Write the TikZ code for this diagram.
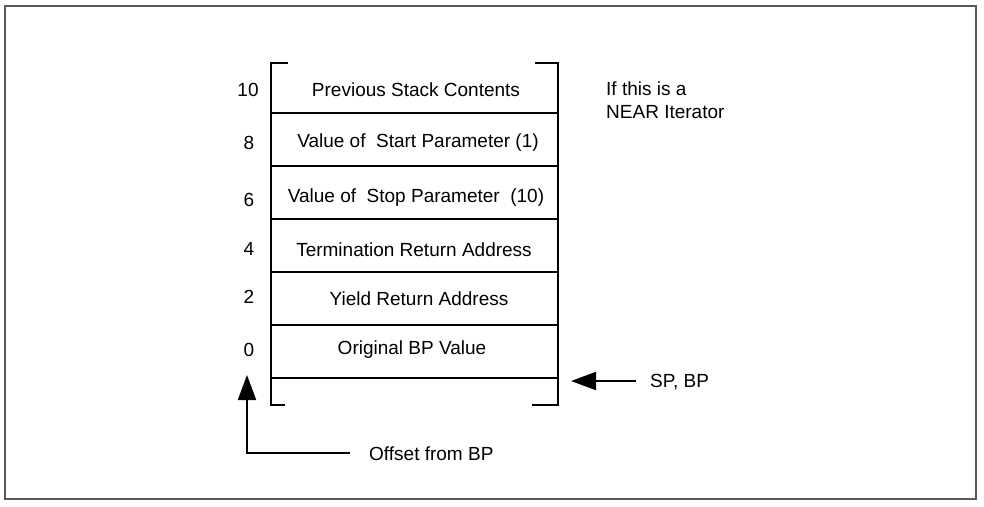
\documentclass[tikz,border=0pt]{standalone}
\usepackage{fontspec}
\setmainfont{Liberation Sans}
\usetikzlibrary{arrows.meta}
\begin{document}
\begin{tikzpicture}[x=1pt,y=-1pt,
  lbl/.style={font=\fontsize{19}{23}\selectfont, inner sep=0pt, anchor=center, yshift=-1.5pt},
  stk/.style={line width=2pt, black},
  arr/.style={line width=2pt, -{Triangle[length=25pt,width=18pt]}}]
\useasboundingbox (0,0) rectangle (984,506);
\draw[line width=1.5pt, black!65] (5,6) rectangle (976,499);
% stack outline
\draw[stk] (288,63) -- (271,63) -- (271,405) -- (285,405);
\draw[stk] (535,63) -- (558,63) -- (558,405) -- (532,405);
\foreach \y in {113,166,219,272,325,378} \draw[stk] (271,\y) -- (558,\y);
% cell texts
\node[lbl] (c10) at (416,88) {Previous Stack Contents};
\node[lbl] (c8) at (418,141) {Value of~ Start Parameter (1)};
\node[lbl] (c6) at (416,196) {Value of~ Stop Parameter~ (10)};
\node[lbl] (c4) at (414,248) {Termination Return Address};
\node[lbl] (c2) at (419,297) {Yield Return Address};
\node[lbl] (c0) at (412,348) {Original BP Value};
% offsets
\node[lbl] (o10) at (248,88) {10};
\node[lbl] (o8) at (249,141) {8};
\node[lbl] (o6) at (249,198) {6};
\node[lbl] (o4) at (249,247) {4};
\node[lbl] (o2) at (249,295) {2};
\node[lbl] (o0) at (249,348) {0};
% side notes
\node[lbl, anchor=west, align=left] (near) at (606,99) {If this is a\\NEAR Iterator};
\node[lbl, anchor=west] (spbp) at (650,381) {SP, BP};
\node[lbl, anchor=west] (offs) at (369,452) {Offset from BP};
\coordinate (sptip) at (571,381);
\coordinate (corner) at (247,453);
\coordinate (offtip) at (247,375);
\draw[arr] (636,381) coordinate (spstart) -- (sptip);
\draw[arr] (350,453) coordinate (offstart) -- (corner) -- (offtip);
\end{tikzpicture}
\end{document}
